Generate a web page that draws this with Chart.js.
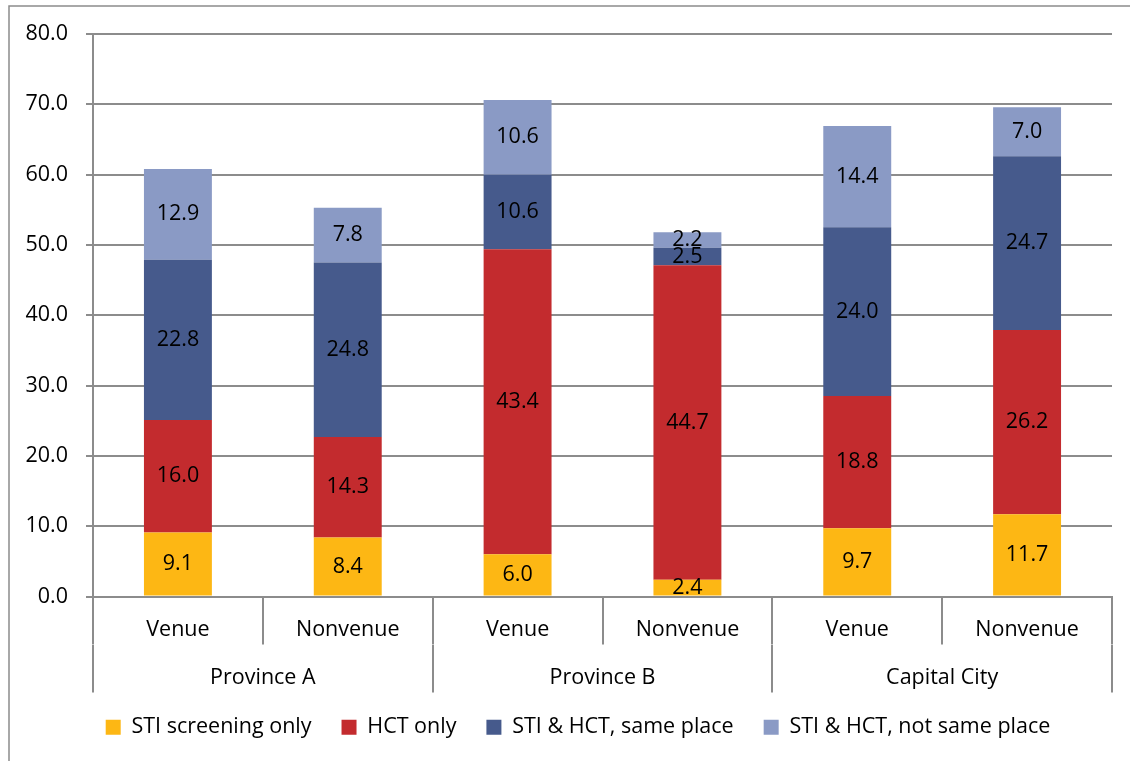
<!DOCTYPE html>
<html>
<head>
<meta charset="utf-8">
<script src="https://cdn.jsdelivr.net/npm/chart.js@4.4.1/dist/chart.umd.min.js"></script>
<style>
  html, body { margin: 0; padding: 0; background: #ffffff; }
  #wrap { width: 1130px; height: 761px; }
</style>
</head>
<body>
<div id="wrap"><canvas id="chart" width="1130" height="761"></canvas></div>
<script>
// Testing location per region, split by recruitment setting
const settings = ['Venue', 'Nonvenue', 'Venue', 'Nonvenue', 'Venue', 'Nonvenue'];
const regions = ['Province A', 'Province B', 'Capital City'];

const stiScreeningOnly = [9.1, 8.4, 6.0, 2.4, 9.7, 11.7];
const hctOnly = [16.0, 14.3, 43.4, 44.7, 18.8, 26.2];
const stiHctSamePlace = [22.8, 24.8, 10.6, 2.5, 24.0, 24.7];
const stiHctNotSamePlace = [12.9, 7.8, 10.6, 2.2, 14.4, 7.0];

const seriesNames = ['STI screening only', 'HCT only', 'STI & HCT, same place', 'STI & HCT, not same place'];
const seriesColors = ['#FDB714', '#C32B2E', '#465A8C', '#8A9AC5'];

const yMin = 0;
const yMax = 80;
const yStep = 10;

const FONT_FAMILY = '"Open Sans", "Noto Sans", sans-serif';
const FONT_SIZE = 21.5;
const GRID = '#8c8c8c';
const LEGEND_LEFT = 44;   // legend row is centred between this edge and the plot's right edge
const LEGEND_RAISE = 4;   // pull the legend row a little closer to the axis labels

// Value printed in the middle of every stacked segment
const segmentLabels = {
  id: 'segmentLabels',
  afterDatasetsDraw(chart) {
    const ctx = chart.ctx;
    ctx.save();
    ctx.font = FONT_SIZE + 'px ' + FONT_FAMILY;
    ctx.fillStyle = '#000';
    ctx.textAlign = 'center';
    ctx.textBaseline = 'middle';
    chart.data.datasets.forEach((ds, i) => {
      const meta = chart.getDatasetMeta(i);
      meta.data.forEach((bar, j) => {
        const p = bar.getProps(['x', 'y', 'base'], true);
        ctx.fillText(ds.data[j].toFixed(1), p.x, (p.y + p.base) / 2);
      });
    });
    ctx.restore();
  }
};

// Frame lines along the top and left of the figure
const frame = {
  id: 'frame',
  beforeDraw(chart) {
    const ctx = chart.ctx;
    ctx.save();
    ctx.strokeStyle = GRID;
    ctx.lineWidth = 1.5;
    ctx.beginPath();
    ctx.moveTo(9, chart.height);
    ctx.lineTo(9, 6);
    ctx.lineTo(chart.width, 6);
    ctx.stroke();
    ctx.restore();
  }
};

// Adjust the legend box after layout
const legendPlacement = {
  id: 'legendPlacement',
  afterLayout(chart) {
    const lg = chart.legend;
    if (lg) {
      lg.left = LEGEND_LEFT;
      lg.width = lg.right - lg.left;
      lg.top -= LEGEND_RAISE;
      lg.bottom -= LEGEND_RAISE;
    }
  }
};

const datasets = [stiScreeningOnly, hctOnly, stiHctSamePlace, stiHctNotSamePlace].map((values, i) => ({
  label: seriesNames[i],
  data: values,
  backgroundColor: seriesColors[i],
  borderWidth: 0,
  categoryPercentage: 1,
  barPercentage: 0.4
}));

new Chart(document.getElementById('chart'), {
  type: 'bar',
  data: { labels: settings, datasets },
  plugins: [frame, segmentLabels, legendPlacement],
  options: {
    responsive: false,
    animation: false,
    devicePixelRatio: 1,
    layout: { padding: { top: 34, left: 0, right: 18, bottom: 9 } },
    plugins: {
      tooltip: { enabled: false },
      legend: {
        position: 'bottom',
        labels: {
          boxWidth: 15,
          boxHeight: 15,
          padding: 30,
          color: '#000',
          font: { family: FONT_FAMILY, size: FONT_SIZE }
        }
      }
    },
    scales: {
      x: {
        stacked: true,
        offset: true,
        weight: 0,
        grid: { display: true, drawOnChartArea: false, drawTicks: true, tickLength: 48, color: GRID, lineWidth: 2, offset: true },
        border: { display: true, color: GRID, width: 2 },
        ticks: { color: '#000', font: { family: FONT_FAMILY, size: FONT_SIZE }, padding: -28, maxRotation: 0, autoSkip: false },
        afterFit(scale) { scale.height = 48; }
      },
      x2: {
        type: 'category',
        labels: regions,
        position: 'bottom',
        offset: true,
        weight: 1,
        grid: { display: true, drawOnChartArea: false, drawTicks: true, tickLength: 48, color: GRID, lineWidth: 2, offset: true },
        border: { display: false },
        ticks: { color: '#000', font: { family: FONT_FAMILY, size: FONT_SIZE }, padding: -28, maxRotation: 0, autoSkip: false },
        afterFit(scale) { scale.height = 46; }
      },
      y: {
        stacked: true,
        min: yMin,
        max: yMax,
        grid: { color: GRID, lineWidth: 2, tickLength: 7, drawTicks: true },
        border: { display: true, color: GRID, width: 2 },
        ticks: {
          stepSize: yStep,
          padding: 18,
          color: '#000',
          font: { family: FONT_FAMILY, size: FONT_SIZE },
          callback: (v) => Number(v).toFixed(1)
        },
        afterFit(scale) { scale.width = 93; }
      }
    }
  }
});
</script>
</body>
</html>
